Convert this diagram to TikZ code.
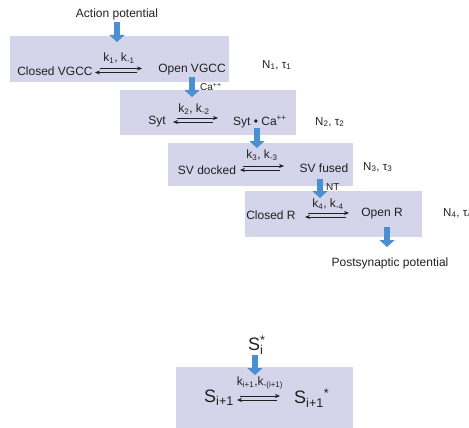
\documentclass[tikz,border=0pt]{standalone}
\usepackage{fontspec}
\setmainfont{Liberation Sans}
\usetikzlibrary{arrows.meta}
\definecolor{boxfill}{RGB}{212,212,234}
\definecolor{fatblue}{RGB}{74,144,208}
\definecolor{ink}{RGB}{35,31,32}
\tikzset{
  stagebox/.style={fill=boxfill, draw=none, anchor=north west, inner sep=0pt},
  lbl/.style={font=\fontsize{12}{14}\selectfont, text=ink, inner sep=0pt},
  klbl/.style={font=\fontsize{12}{14}\selectfont, text=ink, inner sep=0pt},
  nlbl/.style={font=\fontsize{11.5}{13}\selectfont, text=ink, inner sep=0pt, anchor=west},
  small/.style={font=\fontsize{10}{12}\selectfont, text=ink, inner sep=0pt, anchor=west},
  big/.style={font=\fontsize{18}{20}\selectfont, text=ink, inner sep=0pt},
  fat/.style={draw=fatblue, line width=6pt, -{Triangle[length=7pt,width=15pt]}, fatblue},
  fwd/.style={draw=ink, line width=0.7pt, -{Stealth[length=5pt,width=4pt]}},
}
\begin{document}
\begin{tikzpicture}[x=1pt,y=-1pt]
\useasboundingbox (0,0) rectangle (469,428);
% boxes
\node[stagebox, minimum width=219pt, minimum height=46pt] (b1) at (10,36) {};
\node[stagebox, minimum width=176pt, minimum height=45pt] (b2) at (120,90) {};
\node[stagebox, minimum width=185pt, minimum height=43pt] (b3) at (168,143) {};
\node[stagebox, minimum width=177pt, minimum height=46pt] (b4) at (245,191) {};
\node[stagebox, minimum width=177pt, minimum height=62pt] (b5) at (176,367) {};

% texts
\node[lbl] (ap) at (117,14) {Action potential};
\node[lbl] (cv) at (55,71) {Closed VGCC};
\node[lbl] (ov) at (192,70) {Open VGCC};
\node[klbl] (k1) at (119,58) {k\textsubscript{1}, k\textsubscript{-1}};
\node[nlbl] (n1) at (262,65) {N\textsubscript{1}, τ\textsubscript{1}};
\node[small] (ca) at (200,87) {Ca\textsuperscript{++}};

\node[lbl] (syt) at (157,122) {Syt};
\node[lbl, anchor=west] (sytca) at (233,122) {Syt • Ca\textsuperscript{++}};
\node[klbl] (k2) at (194,109) {k\textsubscript{2}, k\textsubscript{-2}};
\node[nlbl] (n2) at (315,122) {N\textsubscript{2}, τ\textsubscript{2}};

\node[lbl] (svd) at (207,170) {SV docked};
\node[lbl] (svf) at (324,168) {SV fused};
\node[klbl] (k3) at (262,155) {k\textsubscript{3}, k\textsubscript{-3}};
\node[nlbl] (n3) at (363,167) {N\textsubscript{3}, τ\textsubscript{3}};
\node[small] (nt) at (326,187) {NT};

\node[lbl] (cr) at (271,215) {Closed R};
\node[lbl] (orr) at (382,214) {Open R};
\node[klbl] (k4) at (328,204) {k\textsubscript{4}, k\textsubscript{-4}};
\node[nlbl] (n4) at (443,213) {N\textsubscript{4}, τ\textsubscript{4}};
\node[lbl] (psp) at (390,263) {Postsynaptic potential};

\node[big, anchor=west] (si) at (248,345) {S\rlap{\textsubscript{i}}\textsuperscript{*}};
\node[big, anchor=west] (sa) at (204,398) {S\textsubscript{i+1}};
\node[big, anchor=west] (sb) at (294,398) {S\textsubscript{i+1}\textsuperscript{*}};
\node[klbl] (k5) at (260,383) {k\textsubscript{i+1},k\textsubscript{-(i+1)}};

% equilibrium arrows
\coordinate (e1a) at (95,68.5); \coordinate (e1b) at (142,68.5);
\coordinate (e1c) at (137,72.5); \coordinate (e1d) at (95,72.5);
\draw[fwd] ([xshift=5pt]e1a) -- (e1b);
\draw[fwd] (e1c) -- (e1d);

\coordinate (e2a) at (173,118); \coordinate (e2b) at (218,118);
\coordinate (e2c) at (213,122); \coordinate (e2d) at (173,122);
\draw[fwd] ([xshift=4pt]e2a) -- (e2b);
\draw[fwd] (e2c) -- (e2d);

\coordinate (e3a) at (240,166); \coordinate (e3b) at (284,166);
\coordinate (e3c) at (280,170); \coordinate (e3d) at (240,170);
\draw[fwd] ([xshift=3pt]e3a) -- (e3b);
\draw[fwd] (e3c) -- (e3d);

\coordinate (e4a) at (305,213); \coordinate (e4b) at (349,213);
\coordinate (e4c) at (346,217); \coordinate (e4d) at (305,217);
\draw[fwd] ([xshift=3pt]e4a) -- (e4b);
\draw[fwd] (e4c) -- (e4d);

\coordinate (e5a) at (237,396); \coordinate (e5b) at (280,396);
\coordinate (e5c) at (277,400); \coordinate (e5d) at (237,400);
\draw[fwd] ([xshift=3pt]e5a) -- (e5b);
\draw[fwd] (e5c) -- (e5d);

% fat blue arrows
\coordinate (a1s) at (117,22); \coordinate (a1e) at (117,42);
\coordinate (a2s) at (192,77); \coordinate (a2e) at (192,97);
\coordinate (a3s) at (257,128); \coordinate (a3e) at (257,148);
\coordinate (a4s) at (320,179); \coordinate (a4e) at (320,198);
\coordinate (a5s) at (387,227); \coordinate (a5e) at (387,247);
\coordinate (a6s) at (255,355); \coordinate (a6e) at (255,375);
\draw[fat] (a1s) -- (a1e);
\draw[fat] (a2s) -- (a2e);
\draw[fat] (a3s) -- (a3e);
\draw[fat] (a4s) -- (a4e);
\draw[fat] (a5s) -- (a5e);
\draw[fat] (a6s) -- (a6e);
\end{tikzpicture}
\end{document}
